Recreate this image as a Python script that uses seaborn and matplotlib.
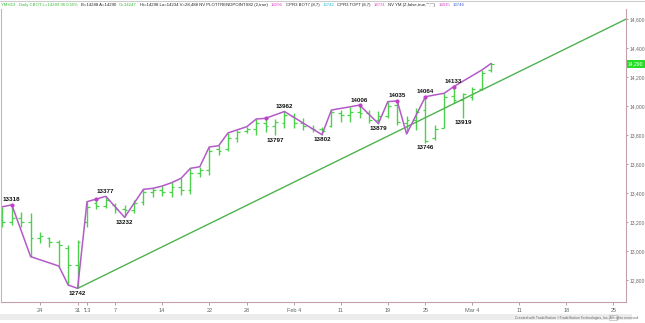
import matplotlib
matplotlib.use("Agg")
import matplotlib.pyplot as plt
from matplotlib.patches import Rectangle
import numpy as np
import seaborn as sns

# ---------------- data ----------------
bar_idx = list(range(-4, 49))          # trading-day index, 0 = Dec 24 2012
highs = [13305, 13318, 13271, 13264, 13133, 13099, 13076, 13041, 13076, 13340,
         13358, 13377, 13329, 13317, 13352, 13430, 13436, 13450, 13474, 13501,
         13570, 13581, 13717, 13728, 13814, 13836, 13857, 13910, 13915, 13908,
         13962, 13950, 13915, 13869, 13857, 13972, 13972, 13995, 14006, 13972,
         13965, 14030, 14035, 13930, 13984, 14064, 13869, 14088, 14133, 14088,
         14133, 14248, 14294]
lows = [13167, 13179, 13167, 12961, 13053, 13030, 12892, 12765, 12742, 13167,
        13287, 13296, 13260, 13232, 13262, 13317, 13370, 13380, 13375, 13386,
        13390, 13512, 13524, 13662, 13690, 13750, 13812, 13800, 13823, 13797,
        13846, 13846, 13834, 13823, 13802, 13857, 13892, 13892, 13915, 13880,
        13879, 13915, 13869, 13812, 13834, 13746, 13766, 13846, 14018, 13919,
        14041, 14110, 14237]
opens = [13290, 13200, 13230, 13200, 13090, 13090, 13060, 13020, 12900, 13200,
         13330, 13310, 13320, 13290, 13280, 13340, 13410, 13420, 13410, 13440,
         13420, 13540, 13560, 13700, 13700, 13780, 13830, 13840, 13880, 13860,
         13880, 13930, 13880, 13850, 13840, 13860, 13950, 13940, 13960, 13950,
         13900, 13930, 14010, 13880, 13900, 13970, 13780, 13850, 14070, 14040,
         14060, 14120, 14250]
closes = [13200, 13230, 13200, 13090, 13100, 13060, 13040, 12900, 13060, 13300,
          13310, 13350, 13290, 13280, 13330, 13410, 13420, 13410, 13440, 13420,
          13540, 13560, 13690, 13690, 13780, 13820, 13840, 13880, 13860, 13890,
          13940, 13880, 13860, 13840, 13830, 13960, 13940, 13960, 13950, 13900,
          13930, 14000, 13890, 13900, 13960, 13760, 13840, 14060, 14040, 14080,
          14120, 14230, 14290]

swing_idx = [-4, -3, -1, 2, 3, 4, 5, 6, 7, 9, 11, 12, 13, 14, 15, 16, 17, 18, 19,
             20, 21, 22, 23, 24, 26, 30, 31, 34, 36, 37, 38, 39, 41, 43, 44, 47, 48]
swing_px = [13305, 13318, 12961, 12896, 12765, 12742, 13340, 13358, 13377, 13232,
            13425, 13432, 13448, 13471, 13501, 13570, 13581, 13717, 13726, 13814,
            13836, 13857, 13910, 13915, 13962, 13802, 13972, 14006, 13879, 14030,
            14035, 13807, 14064, 14088, 14133, 14248, 14294]

marker_idx = [-3, 6, 24, 34, 38, 41, 44]
marker_px = [13318, 13358, 13915, 14006, 14035, 14064, 14133]

label_idx = [-3, 7, 4, 9, 26, 25, 30, 34, 36, 38, 41, 41, 44, 45]
label_px = [13318, 13377, 12742, 13232, 13962, 13797, 13802, 14006, 13879,
            14035, 14064, 13746, 14133, 13919]
label_side = ["above", "above", "below", "below", "above", "below", "below",
              "above", "below", "above", "above", "below", "above", "below"]

trend_idx = [4, 63]
trend_px = [12742, 14620]

tick_idx = [0, 4, 5, 8, 13, 18, 22, 27, 32, 37, 41, 46, 51, 56, 61]
tick_labels = ["24", "31", "'13", "7", "14", "22", "28", "Feb 4", "11", "19",
               "25", "Mar 4", "11", "18", "25"]
ytick_vals = [12800, 13000, 13200, 13400, 13600, 13800, 14000, 14200, 14400, 14600]
last_price = 14290

header_parts = [
    ("YMH13 - Daily CBOT L=14289 96 0.55%", "#33bb33"),
    ("B=14288 A=14290", "#222222"),
    ("O=14247", "#33bb33"),
    ("Hi=14298 Lo=14234 V=28,488 NV PLOTTRENDPOINTS82 (2,true)", "#222222"),
    ("14296", "#dd44cc"),
    ("CPR3 BOT7 (8,7)", "#222222"),
    ("13742", "#22bbcc"),
    ("CPR3 TOPT (8,7)", "#222222"),
    ("14731", "#dd44cc"),
    ('NV YM (Z,false,true,"","")', "#222222"),
    ("14035", "#dd44cc"),
    ("13746", "#3355dd"),
]

# ---------------- style ----------------
sns.set_style("white")
plt.rcParams["font.family"] = ["Liberation Sans", "DejaVu Sans"]

W, H = 645, 323
fig = plt.figure(figsize=(W / 100, H / 100), dpi=100)
ax = fig.add_axes([1 / W, (H - 302) / H, 625 / W, 293 / H])

bar_color = "#4ad24a"
bi = np.array(bar_idx, dtype=float)
ax.vlines(bi, lows, highs, color=bar_color, lw=1.0, zorder=2)
ax.hlines(opens, bi - 0.3, bi, color=bar_color, lw=0.9, zorder=2)
ax.hlines(closes, bi, bi + 0.3, color=bar_color, lw=0.9, zorder=2)

sns.lineplot(x=trend_idx, y=trend_px, ax=ax, color="#4eb24e", lw=1.0,
             sort=False, estimator=None, zorder=3)
sns.lineplot(x=swing_idx, y=swing_px, ax=ax, color="#b45ac8", lw=1.1,
             sort=False, estimator=None, zorder=4)
sns.scatterplot(x=marker_idx, y=marker_px, ax=ax, color="#c040c8", s=9,
                linewidth=0, zorder=5)

for i, p, side in zip(label_idx, label_px, label_side):
    dy = 5 if side == "above" else -5
    ax.annotate(str(p), (i, p), xytext=(0, dy), textcoords="offset pixels",
                ha="center", va="center", fontsize=4.5, fontweight="bold",
                color="#111111", zorder=6)

ax.set_xlim(-4.15, 62.34)
ax.set_ylim(12648, 14669)

ax.yaxis.tick_right()
ax.set_yticks(ytick_vals)
ax.set_yticklabels([f"{v:,}" for v in ytick_vals])
ax.set_xticks(tick_idx)
ax.set_xticklabels(tick_labels)
ax.tick_params(axis="y", which="both", right=True, length=1.5, width=0.6,
               color="#b08890", labelsize=3.6, labelcolor="#666666", pad=1.0)
ax.tick_params(axis="x", which="both", bottom=True, length=2.0, width=0.6,
               color="#b08890", labelsize=4.0, labelcolor="#666666", pad=2)

ax.spines["top"].set_visible(False)
ax.spines["left"].set_color("#bbbbbb")
ax.spines["left"].set_linewidth(0.8)
for s in ["right", "bottom"]:
    ax.spines[s].set_color("#c4a0a8")
    ax.spines[s].set_linewidth(0.8)

# last price box on the right axis
trans = matplotlib.transforms.blended_transform_factory(ax.transAxes, ax.transData)
ax.text(1.003, last_price, f"{last_price:,}", transform=trans, ha="left",
        va="center", fontsize=3.6, color="white", clip_on=False,
        bbox=dict(boxstyle="square,pad=0.25", fc="#22dd22", ec="none"))

# header line: pieces placed one after another
renderer = fig.canvas.get_renderer()
xpix = 1.0
for txt, col in header_parts:
    t = fig.text(xpix / W, 1 - 5 / H, txt, fontsize=3.1, color=col, ha="left",
                 va="center")
    bb = t.get_window_extent(renderer=renderer)
    xpix += bb.width + 3
fig.add_artist(plt.Line2D([0, 1], [1 - 0.5 / H, 1 - 0.5 / H],
                          transform=fig.transFigure, color="#cccccc", lw=0.8))

# scroll band at the bottom
fig.patches.append(Rectangle((0, 3 / H), 632 / W, 6 / H, transform=fig.transFigure,
                             fc="#ececec", ec="none", zorder=0))
fig.patches.append(Rectangle((609 / W, 3.5 / H), 8 / W, 5 / H,
                             transform=fig.transFigure, fc="#f8f8f8",
                             ec="#aaaaaa", lw=0.4, zorder=1))
fig.text(639 / W, 1 - 318.5 / H,
         "Created with TradeStation ©TradeStation Technologies, Inc. All rights reserved.",
         fontsize=2.5, color="#666666", ha="right", va="center")

fig.savefig("out.png", dpi=100)
